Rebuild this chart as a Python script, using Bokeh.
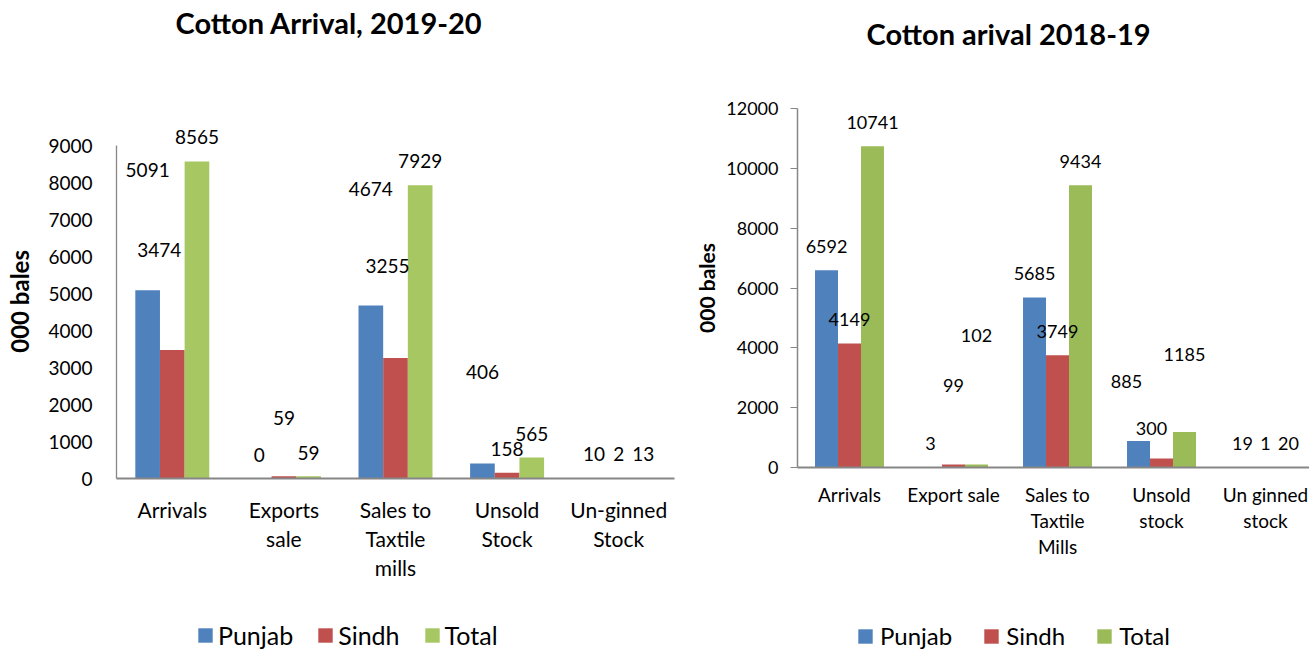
import numpy as np
from bokeh.plotting import figure
from bokeh.models import (ColumnDataSource, Range1d, FixedTicker, LabelSet,
                          Legend, LegendItem, Title)
from bokeh.core.properties import value
from bokeh.layouts import row, column
from bokeh.embed import file_html
from bokeh.resources import INLINE

FONT = "Lato"

# ---------------- data: 2019-20 ----------------
cats_1920 = ["Arrivals", "Exports sale", "Sales to Taxtile mills", "Unsold Stock", "Un-ginned Stock"]
ticks_1920 = ["Arrivals", "Exports\nsale", "Sales to\nTaxtile\nmills", "Unsold\nStock", "Un-ginned\nStock"]
punjab_1920 = [5091, 0, 4674, 406, 10]
sindh_1920 = [3474, 59, 3255, 158, 2]
total_1920 = [8565, 59, 7929, 565, 13]

# ---------------- data: 2018-19 ----------------
cats_1819 = ["Arrivals", "Export sale", "Sales to Taxtile Mills", "Unsold stock", "Un ginned stock"]
ticks_1819 = ["Arrivals", "Export sale", "Sales to\nTaxtile\nMills", "Unsold\nstock", "Un ginned\nstock"]
punjab_1819 = [6592, 3, 5685, 885, 19]
sindh_1819 = [4149, 99, 3749, 300, 1]
total_1819 = [10741, 102, 9434, 1185, 20]

series = ["Punjab", "Sindh", "Total"]

# label placement (screen px offsets from the bar top), as in the original
dy_1920 = [[120, 24, 117, 91, 24], [100, 58, 92, 24, 24], [25, 23, 24, 24, 24]]
dx_1920 = [[0, 0, 0, 0, 0], [-13, 0, -8, 0, 0], [0, 0, 0, 0, 0]]
dy_1819 = [[24, 24, 24, 60, 23], [24, 79, 24, 30, 24], [24, 129, 24, 78, 23]]
dx_1819 = [[0, 0, 0, -12, 0], [0, 0, 0, -10, 0], [0, 0, 0, 0, 0]]

AXIS_GREY = "#868686"


def build(title, cats, ticks, values, colors, dys, dxs, y_max, y_step, y_end, x_end,
          size, borders, st):
    p = figure(width=size[0], height=size[1], title=None,
               output_backend="svg", toolbar_location=None,
               x_range=Range1d(-0.5, x_end), y_range=Range1d(0, y_end),
               min_border_left=borders[0], min_border_right=borders[1],
               min_border_top=borders[2], min_border_bottom=borders[3])
    p.frame_align = False
    p.outline_line_color = None
    p.xgrid.grid_line_color = None
    p.ygrid.grid_line_color = None
    p.background_fill_color = "white"
    p.border_fill_color = "white"

    n = len(cats)
    idx = np.arange(n)
    offsets = [-0.221, 0.0, 0.221]
    for s, vals, col, off, dy, dx in zip(series, values, colors, offsets, dys, dxs):
        src = ColumnDataSource(dict(x=idx + off, top=vals, text=[str(v) for v in vals],
                                    dy=dy, dx=dx, cat=cats))
        p.vbar(x="x", top="top", bottom=0, width=0.221, source=src,
               fill_color=col, line_color=None)
        p.add_layout(LabelSet(x="x", y="top", text="text", source=src,
                              x_offset="dx", y_offset="dy",
                              text_align="center", text_baseline="middle",
                              text_font=value(FONT), text_font_size=value(st["data_fs"]),
                              text_color="black"))

    # top panel, from the frame outwards: blank spacer, then the title
    p.add_layout(Title(text=" ", text_font_size="10px", standoff=st["title_gap"]), "above")
    p.add_layout(Title(text=title, text_font=FONT, text_font_style="bold",
                       text_font_size=st["title_fs"], text_color="black",
                       align="left", offset=st["title_offset"], standoff=0,
                       vertical_align="top"), "above")

    # y axis
    ya = p.yaxis[0]
    ya.ticker = FixedTicker(ticks=list(range(0, y_max + 1, y_step)))
    ya.bounds = (0, y_max)
    ya.axis_line_color = AXIS_GREY
    ya.axis_line_width = st["yline_w"]
    ya.major_tick_line_color = AXIS_GREY
    ya.major_tick_out = st["ytick_out"]
    ya.major_tick_in = 0
    ya.minor_tick_line_color = None
    ya.major_label_text_font = FONT
    ya.major_label_text_font_size = st["ytick_fs"]
    ya.major_label_text_color = "black"
    ya.major_label_standoff = st["ytick_standoff"]
    ya.axis_label = st["ylabel"]
    ya.axis_label_text_font = FONT
    ya.axis_label_text_font_style = "bold"
    ya.axis_label_text_font_size = st["ylabel_fs"]
    ya.axis_label_text_color = "black"
    ya.axis_label_standoff = st["ylabel_standoff"]

    # x axis
    xa = p.xaxis[0]
    xa.ticker = FixedTicker(ticks=list(range(n)))
    xa.major_label_overrides = {i: t for i, t in enumerate(ticks)}
    xa.axis_line_color = AXIS_GREY
    xa.axis_line_width = 2
    xa.major_tick_line_color = None
    xa.major_tick_out = 0
    xa.major_tick_in = 0
    xa.minor_tick_line_color = None
    xa.major_label_text_font = FONT
    xa.major_label_text_font_size = st["xtick_fs"]
    xa.major_label_text_color = "black"
    xa.major_label_text_line_height = st["xtick_lh"]
    xa.major_label_standoff = st["xtick_standoff"]
    return p


def legend_strip(colors, size, loc, standoff, spacing, fs):
    # a strip under the chart that only carries the legend; each key is a
    # zero-height stand-in bar, so nothing but the legend is visible
    lp = figure(width=size[0], height=size[1], output_backend="svg",
                toolbar_location=None, x_range=Range1d(0, 1), y_range=Range1d(0, 1),
                x_axis_location=None, y_axis_location=None, min_border=0)
    lp.frame_align = False
    lp.outline_line_color = None
    lp.grid.grid_line_color = None
    items = []
    for s, c in zip(series, colors):
        key = ColumnDataSource(dict(x=[0.5], top=[0.0]))
        r = lp.vbar(x="x", top="top", bottom=0, width=0.01, source=key,
                    fill_color=c, line_color=None)
        items.append(LegendItem(label=value(s), renderers=[r]))
    lp.add_layout(Legend(items=items, orientation="horizontal", location=loc,
                         glyph_width=18, glyph_height=18, label_standoff=standoff,
                         spacing=spacing, padding=0, margin=0,
                         border_line_color=None, background_fill_alpha=0,
                         label_text_font=FONT, label_text_font_size=fs,
                         label_text_color="black"), "center")
    return lp


colors_1920 = ["#4F81BD", "#C0504D", "#A6C762"]
colors_1819 = ["#4F81BD", "#C0504D", "#9BBB59"]

left = build("Cotton Arrival, 2019-20", cats_1920, ticks_1920,
             [punjab_1920, sindh_1920, total_1920], colors_1920, dy_1920, dx_1920,
             y_max=9000, y_step=1000, y_end=9730, x_end=4.5,
             size=(687, 608), borders=(116, 13, 118, 130),
             st=dict(data_fs="19px", yline_w=1.3, ytick_out=0, ytick_fs="19px",
                     ytick_standoff=24, ylabel="000  bales", ylabel_fs="24px",
                     ylabel_standoff=11, xtick_fs="21px", xtick_lh=1.17,
                     xtick_standoff=18, title_offset=59, title_gap=64,
                     title_fs="29px"))
left_leg = legend_strip(colors_1920, (687, 43), (196, 1), 4, 23, "25px")

right = build("Cotton arival 2018-19", cats_1819, ticks_1819,
              [punjab_1819, sindh_1819, total_1819], colors_1819, dy_1819, dx_1819,
              y_max=12000, y_step=2000, y_end=12000, x_end=4.423,
              size=(622, 607), borders=(110, 0, 108, 140),
              st=dict(data_fs="18px", yline_w=1.5, ytick_out=7, ytick_fs="18px",
                      ytick_standoff=12, ylabel="000 bales", ylabel_fs="21px",
                      ylabel_standoff=4, xtick_fs="19px", xtick_lh=1.14,
                      xtick_standoff=15, title_offset=69, title_gap=43,
                      title_fs="29px"))
right_leg = legend_strip(colors_1819, (622, 44), (169, 1), 6, 30, "24px")

layout = row(column(left, left_leg), column(right, right_leg))
open("out.html", "w").write(file_html(layout, INLINE))
